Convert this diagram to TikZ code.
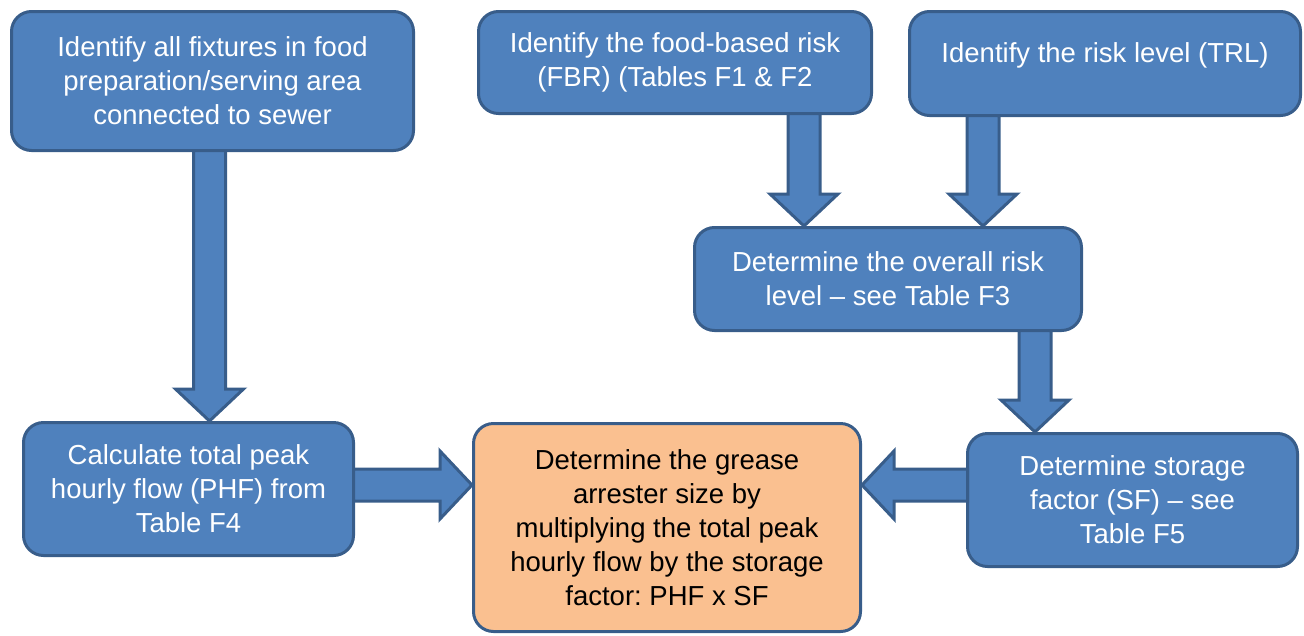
\documentclass[tikz,border=0pt]{standalone}
\usepackage{fontspec}
\setmainfont{Liberation Sans}
\usetikzlibrary{calc}
\definecolor{boxblue}{HTML}{4F81BD}
\definecolor{boxline}{HTML}{385D8A}
\definecolor{boxorange}{HTML}{FAC090}
\tikzset{
  box/.style={draw=boxline, line width=3pt, fill=boxblue, rounded corners=20pt,
    text=white, align=center, inner sep=0pt,
    font=\fontsize{27.5}{34}\selectfont\frenchspacing},
  resultbox/.style={box, fill=boxorange, text=black},
  barrow/.style={draw=boxline, line width=3pt, fill=boxblue, line join=miter}
}
% block arrow pointing down: from anchor, to anchor, x offset
\newcommand{\BAdown}[3]{%
  \draw[barrow] let \p1=(#1), \p2=(#2), \p3=($(#1)+(#3,0)$) in
   (\x3-16pt,\y1+1.5pt) -- (\x3+16pt,\y1+1.5pt) -- (\x3+16pt,\y2+32pt) -- (\x3+34pt,\y2+32pt)
   -- (\x3,\y2) -- (\x3-34pt,\y2+32pt) -- (\x3-16pt,\y2+32pt) -- cycle;}
% block arrow pointing right
\newcommand{\BAright}[3]{%
  \draw[barrow] let \p1=(#1), \p2=(#2), \p3=($(#1)+(0,#3)$) in
   (\x1-1.5pt,\y3+16pt) -- (\x2-32pt,\y3+16pt) -- (\x2-32pt,\y3+34pt) -- (\x2,\y3)
   -- (\x2-32pt,\y3-34pt) -- (\x2-32pt,\y3-16pt) -- (\x1-1.5pt,\y3-16pt) -- cycle;}
% block arrow pointing left
\newcommand{\BAleft}[3]{%
  \draw[barrow] let \p1=(#1), \p2=(#2), \p3=($(#1)+(0,#3)$) in
   (\x1+1.5pt,\y3+16pt) -- (\x2+32pt,\y3+16pt) -- (\x2+32pt,\y3+34pt) -- (\x2,\y3)
   -- (\x2+32pt,\y3-34pt) -- (\x2+32pt,\y3-16pt) -- (\x1+1.5pt,\y3-16pt) -- cycle;}
\begin{document}
\begin{tikzpicture}[x=1pt, y=-1pt]
\useasboundingbox (0,0) rectangle (1304,635);

\node[box, minimum width=402, minimum height=139] (fix) at (212.5,81)
  {Identify all fixtures in food\\preparation/serving area\\connected to sewer};
\node[box, minimum width=393, minimum height=102] (fbr) at (675,62.5)
  {Identify the food-based risk\\(FBR) (Tables F1 \& F2};
\node[box, minimum width=391, minimum height=104, text height=20pt, text depth=22pt] (trl) at (1105,63.5)
  {Identify the risk level (TRL)};
\node[box, minimum width=387, minimum height=103] (orl) at (888,279)
  {Determine the overall risk\\level – see Table F3};
\node[box, minimum width=330, minimum height=133] (phf) at (188.5,489)
  {Calculate total peak\\hourly flow (PHF) from\\Table F4};
\node[resultbox, minimum width=387, minimum height=208] (size) at (667,527.5)
  {Determine the grease\\arrester size by\\multiplying the total peak\\hourly flow by the storage\\factor: PHF x SF};
\node[box, minimum width=330, minimum height=133] (sf) at (1132.5,500)
  {Determine storage\\factor (SF) – see\\Table F5};

\BAdown{fix.south}{phf.north}{-3}
\BAdown{fbr.south}{orl.north}{129}
\BAdown{trl.south}{orl.north}{-122}
\BAdown{orl.south}{sf.north}{147}
\BAright{phf.east}{size.west}{-4}
\BAleft{sf.west}{size.east}{-15}
\end{tikzpicture}
\end{document}
